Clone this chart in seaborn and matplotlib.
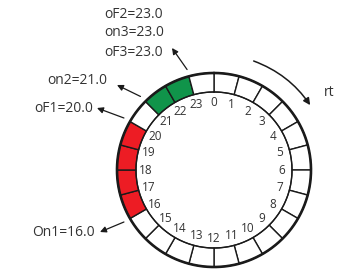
import numpy as np
import matplotlib
matplotlib.use("Agg")
import matplotlib.pyplot as plt
import seaborn as sns

# ---- data ----
hours = list(range(24))
on_times = [16.0, 21.0, 23.0]
off_times = [20.0, 23.0, 23.0]
period_colors = ["#ED1C24", "#10944A", "#10944A"]
event_labels = ["On1=16.0", "oF1=20.0", "on2=21.0", "oF2=23.0", "on3=23.0", "oF3=23.0"]
event_hours = [16.0, 20.0, 21.0, 23.0, 23.0, 23.0]
direction_label = "rt"

sns.set_theme(style="white")
plt.rcParams["font.family"] = ["Open Sans", "DejaVu Sans"]

W, H = 338, 270
fig = plt.figure(figsize=(W / 100, H / 100), dpi=100)

# ring geometry in pixels
CX, CY = 214, 170          # image coords
R_IN, R_OUT = 78, 97
RMAX = 125
ax = fig.add_axes([(CX - RMAX) / W, (H - CY - RMAX) / H, 2 * RMAX / W, 2 * RMAX / H],
                  projection="polar")
ax.set_theta_zero_location("N")
ax.set_theta_direction(-1)
ax.set_ylim(0, RMAX)
ax.axis("off")

step = 2 * np.pi / 24
colors = []
for h in hours:
    c = "white"
    for on, off, col in zip(on_times, off_times, period_colors):
        if on <= h < off:
            c = col
    colors.append(c)

theta_c = [(h + 0.5) * step for h in hours]
ax.bar(theta_c, [R_OUT - R_IN] * 24, width=step, bottom=R_IN, color=colors,
       edgecolor="#1a1a1a", linewidth=1.0, clip_on=False)
tt = np.linspace(0, 2 * np.pi, 400)
ax.plot(tt, np.full_like(tt, R_OUT), color="#1a1a1a", lw=1.9, clip_on=False)
ax.plot(tt, np.full_like(tt, R_IN), color="#1a1a1a", lw=0.9, clip_on=False)

# hour labels
for h in hours:
    ax.text(h * step, 68, str(h), ha="center", va="center", fontsize=8.5,
            color="#333333")

# event arrows and labels
arrow_kw = dict(arrowstyle="-|>", color="#1a1a1a", lw=0.9, mutation_scale=9,
                shrinkA=0, shrinkB=0)
heads = [(100, 232), (97, 108), (117, 85), (172, 48)]
tails_hour = [16.0, 20.0, 21.0, 23.0]
for head, hr in zip(heads, tails_hour):
    ax.annotate("", xy=(head[0], H - head[1]), xycoords="figure pixels",
                xytext=(hr * step, 104), textcoords="data", arrowprops=arrow_kw)

text_pos = [(95, 233, "right"), (93, 109, "right"), (107, 81, "right"),
            (104, 14, "left"), (104, 33, "left"), (104, 52, "left")]
for label, (tx, ty, ha) in zip(event_labels, text_pos):
    fig.text(tx / W, 1 - ty / H, label, ha=ha, va="center", fontsize=10,
             color="#333333")

# rotation direction arrow
ax.annotate("", xy=(np.deg2rad(56), 116), xytext=(np.deg2rad(20), 116),
            arrowprops=dict(arrowstyle="-|>", color="#1a1a1a", lw=1.1,
                            mutation_scale=10, shrinkA=0, shrinkB=0,
                            connectionstyle="arc3,rad=-0.16"))
fig.text(329 / W, 1 - 92 / H, direction_label, ha="center", va="center",
         fontsize=10, color="#333333")

fig.savefig("out.png", dpi=100)
